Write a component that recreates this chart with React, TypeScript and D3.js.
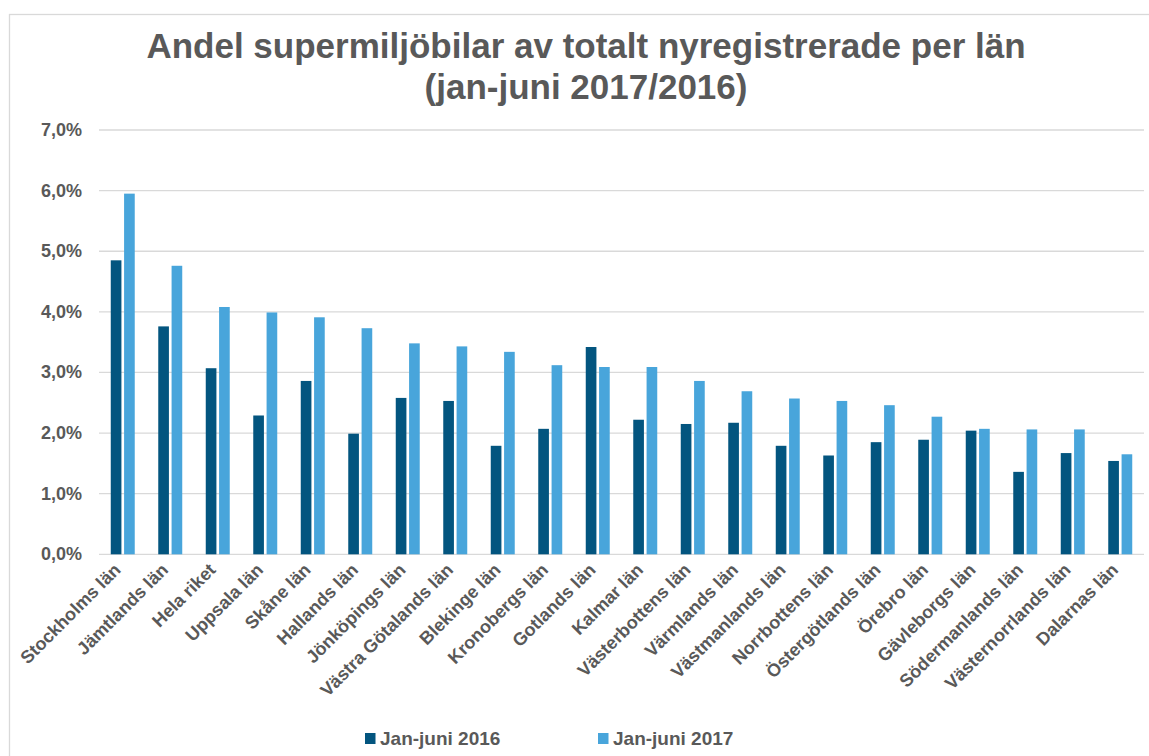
import React from "react"
import * as d3 from "d3"

const lan = [
  "Stockholms län", "Jämtlands län", "Hela riket", "Uppsala län", "Skåne län",
  "Hallands län", "Jönköpings län", "Västra Götalands län", "Blekinge län",
  "Kronobergs län", "Gotlands län", "Kalmar län", "Västerbottens län",
  "Värmlands län", "Västmanlands län", "Norrbottens län", "Östergötlands län",
  "Örebro län", "Gävleborgs län", "Södermanlands län", "Västernorrlands län",
  "Dalarnas län",
]

// andel i procent
const jan2016 = [
  4.85, 3.76, 3.07, 2.29, 2.86, 1.99, 2.58, 2.53, 1.79, 2.07, 3.42,
  2.22, 2.15, 2.17, 1.79, 1.63, 1.85, 1.89, 2.04, 1.36, 1.67, 1.54,
]
const jan2017 = [
  5.95, 4.76, 4.08, 3.99, 3.91, 3.73, 3.48, 3.43, 3.34, 3.12, 3.09,
  3.09, 2.86, 2.69, 2.57, 2.53, 2.46, 2.27, 2.07, 2.06, 2.06, 1.65,
]

const seriesNames = ["Jan-juni 2016", "Jan-juni 2017"]
const yTicks = [0, 1, 2, 3, 4, 5, 6, 7]

const colors = ["#03557f", "#48a5db"]
const textColor = "#595959"
const font = "'Liberation Sans', Arial, sans-serif"

export default function App() {
  const width = 1149
  const height = 756

  const x = d3.scaleBand<string>()
    .domain(lan)
    .range([99, 1144])
    .paddingInner(0.495)
    .paddingOuter(0.2475)

  const xSeries = d3.scaleBand<string>()
    .domain(seriesNames)
    .range([0, x.bandwidth()])
    .paddingInner(0.2)

  const y = d3.scaleLinear().domain([0, 7]).range([554.3, 130])

  const fmt = (v: number) => d3.format(".1f")(v).replace(".", ",") + "%"

  const series = [jan2016, jan2017]

  return (
    <svg width={width} height={height} style={{ position: "absolute", left: 0, top: 0, fontFamily: font }}>
      <rect x={0} y={0} width={width} height={height} fill="#fff" />
      {/* ram */}
      <rect x={9.5} y={14.5} width={width} height={height} fill="none" stroke="#d9d9d9" strokeWidth={1.3} />

      <text x={586} y={58} textAnchor="middle" fontSize={35} fontWeight="bold" fill={textColor}>
        Andel supermiljöbilar av totalt nyregistrerade per län
      </text>
      <text x={586} y={99} textAnchor="middle" fontSize={35} fontWeight="bold" fill={textColor}>
        (jan-juni 2017/2016)
      </text>

      <g>
        {yTicks.map(t => (
          <g key={t}>
            <line x1={99} x2={1144} y1={y(t)} y2={y(t)} stroke="#d9d9d9" strokeWidth={1.3} />
            <text x={82} y={y(t) + 6} textAnchor="end" fontSize={18} fontWeight="bold" fill={textColor}>
              {fmt(t)}
            </text>
          </g>
        ))}
      </g>

      <g>
        {lan.map((name, i) => (
          <g key={name} transform={`translate(${x(name)},0)`}>
            {series.map((vals, s) => (
              <rect
                key={s}
                x={xSeries(seriesNames[s])}
                y={y(vals[i])}
                width={xSeries.bandwidth()}
                height={y(0) - y(vals[i])}
                fill={colors[s]}
              />
            ))}
          </g>
        ))}
      </g>

      <g>
        {lan.map(name => {
          const cx = (x(name) ?? 0) + x.bandwidth() / 2 - 1
          const cy = 571
          return (
            <text
              key={name}
              x={cx}
              y={cy}
              transform={`rotate(-45,${cx},${cy})`}
              textAnchor="end"
              fontSize={18}
              fontWeight="bold"
              fill={textColor}
            >
              {name}
            </text>
          )
        })}
      </g>

      <g>
        {seriesNames.map((n, s) => {
          const lx = s === 0 ? 365 : 598
          return (
            <g key={n}>
              <rect x={lx} y={733} width={10.5} height={11} fill={colors[s]} />
              <text x={lx + 15} y={745} fontSize={19} fontWeight="bold" fill={textColor}>{n}</text>
            </g>
          )
        })}
      </g>
    </svg>
  )
}
